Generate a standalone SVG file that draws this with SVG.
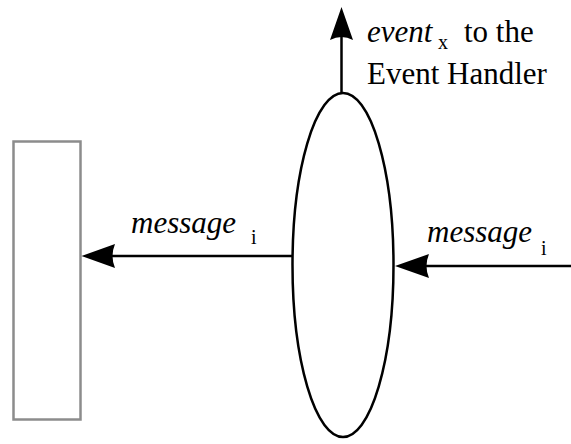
<svg xmlns="http://www.w3.org/2000/svg" width="571" height="444" viewBox="0 0 571 444">
  <style>
    .edge { stroke: #000; stroke-width: 2.5; fill: none; }
    .head { fill: #000; stroke: none; }
  </style>
  <rect width="571" height="444" fill="#fff"/>

  <!-- receiving object -->
  <g id="receiver">
    <rect x="13.5" y="141.5" width="67" height="278" fill="#fff" stroke="#8c8c8c" stroke-width="2.5"/>
  </g>

  <!-- message handler -->
  <g id="handler">
    <ellipse cx="343" cy="265" rx="50.5" ry="172" fill="#fff" stroke="#000" stroke-width="2.5"/>
  </g>

  <g id="connectors">
    <!-- event out to the event handler -->
    <line class="edge" x1="341.5" y1="93" x2="341.5" y2="36"/>
    <path class="head" d="M341.5,7 L353,40 Q341.5,34 330,40 Z"/>
    <!-- message forwarded to receiver -->
    <line class="edge" x1="292" y1="256" x2="110" y2="256"/>
    <path class="head" d="M81.5,256 L115,244 Q110,256 115,268 Z"/>
    <!-- incoming message -->
    <line class="edge" x1="571" y1="266" x2="424" y2="266"/>
    <path class="head" d="M395,266 L429,254 Q424,266 429,278 Z"/>
  </g>

  <g id="labels">
    <text x="367" y="42" font-family="Liberation Serif" font-size="31" font-style="italic">event</text>
    <text x="438" y="49" font-family="Liberation Serif" font-size="20">x</text>
    <text x="464" y="42" font-family="Liberation Serif" font-size="31">to the</text>
    <text x="367" y="84" font-family="Liberation Serif" font-size="31">Event Handler</text>
    <text x="131" y="233" font-family="Liberation Serif" font-size="31" font-style="italic">message</text>
    <text x="251" y="244" font-family="Liberation Serif" font-size="20">i</text>
    <text x="427" y="242" font-family="Liberation Serif" font-size="31" font-style="italic">message</text>
    <text x="541" y="255" font-family="Liberation Serif" font-size="20">i</text>
  </g>
</svg>
